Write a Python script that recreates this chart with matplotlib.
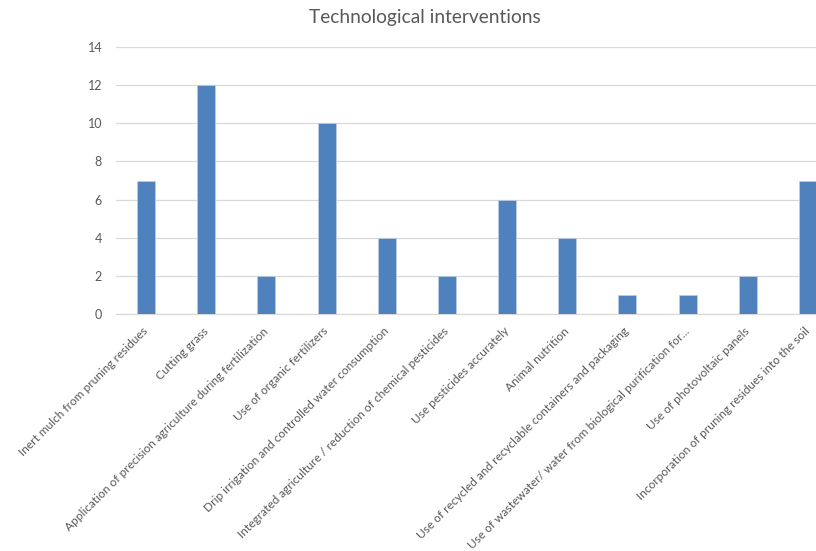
import matplotlib
matplotlib.use("Agg")
import matplotlib.pyplot as plt

categories = [
    "Inert mulch from pruning residues",
    "Cutting grass",
    "Application of precision agriculture during fertilization",
    "Use of organic fertilizers",
    "Drip irrigation and controlled water consumption",
    "Integrated agriculture / reduction of chemical pesticides",
    "Use pesticides accurately",
    "Animal nutrition",
    "Use of recycled and recyclable containers and packaging",
    "Use of wastewater/ water from biological purification for...",
    "Use of photovoltaic panels",
    "Incorporation of pruning residues into the soil",
]
values = [7, 12, 2, 10, 4, 2, 6, 4, 1, 1, 2, 7]
yticks = [0, 2, 4, 6, 8, 10, 12, 14]

plt.rcParams['font.family'] = ['Lato', 'DejaVu Sans']
fig = plt.figure(figsize=(8.16, 5.51), dpi=100)
W, H = 816, 551
left, right = 116, 838
top, bottom = 47, 314
ax = fig.add_axes([left / W, 1 - bottom / H, (right - left) / W, (bottom - top) / H])

x = list(range(len(categories)))
ax.bar(x, values, width=0.3, color='#4F81BD', edgecolor='#BCCDE4', linewidth=0.6, zorder=3)
ax.set_xlim(-0.5, len(categories) - 0.5)
ax.set_ylim(0, 14)
ax.set_yticks(yticks)
ax.set_yticklabels([str(v) for v in yticks], color='#595959', fontsize=9)
ax.yaxis.grid(True, color='#D9D9D9', linewidth=0.9, zorder=0)
ax.set_axisbelow(True)
ax.set_xticks(x)
ax.set_xticklabels(categories, rotation=45, ha='right', va='center', rotation_mode='anchor',
                   color='#595959', fontsize=8.6)
for s in ['top', 'right', 'left']:
    ax.spines[s].set_visible(False)
ax.spines['bottom'].set_color('#D9D9D9')
ax.spines['bottom'].set_linewidth(0.9)
ax.tick_params(axis='both', length=0)
ax.tick_params(axis='y', pad=10)
ax.tick_params(axis='x', pad=11)

fig.text(425 / W, 1 - 17 / H, "Technological interventions", ha='center', va='center',
         fontsize=13.8, color='#595959')

fig.savefig("out.png", dpi=100)
